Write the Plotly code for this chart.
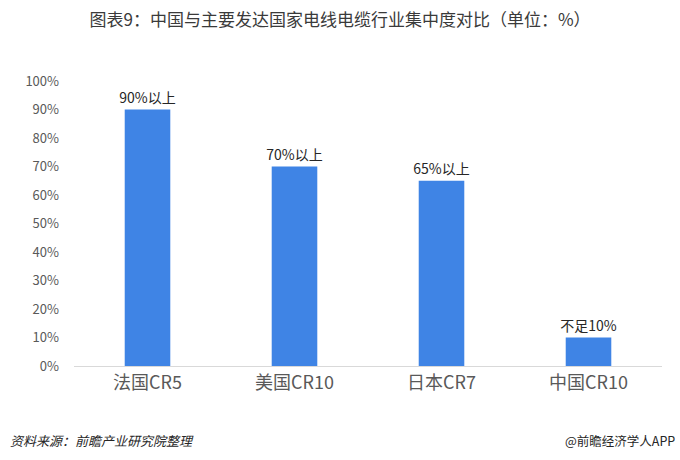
import plotly.graph_objects as go

categories = ["法国CR5", "美国CR10", "日本CR7", "中国CR10"]
values = [90, 70, 65, 10]
bar_labels = ["90%以上", "70%以上", "65%以上", "不足10%"]
y_ticks = [0, 10, 20, 30, 40, 50, 60, 70, 80, 90, 100]
y_tick_text = [f"{v}%" for v in y_ticks]

font_family = "Noto Sans CJK SC, sans-serif"

fig = go.Figure()
fig.add_trace(go.Bar(
    x=categories, y=values,
    marker=dict(color="#3F84E5", line=dict(width=0)),
    width=0.31,
    text=bar_labels, textposition="outside",
    constraintext="none",
    textfont=dict(size=14, color="#262626", family=font_family),
    cliponaxis=False,
))

fig.update_layout(
    width=680, height=460,
    margin=dict(l=74, r=18, t=81, b=94, autoexpand=False),
    paper_bgcolor="white", plot_bgcolor="white",
    showlegend=False,
    font=dict(family=font_family),
    title=dict(
        text="图表9：中国与主要发达国家电线电缆行业集中度对比（单位：%）",
        x=0.5, xanchor="center", y=0.957, yanchor="middle",
        font=dict(size=17, color="#3a3a3a", family=font_family),
    ),
    xaxis=dict(
        showline=True, linecolor="#D9D9D9", linewidth=1,
        ticks="", tickfont=dict(size=18, color="#595959", family=font_family),
        showgrid=False, automargin=False,
    ),
    yaxis=dict(
        range=[0, 100], tickvals=y_ticks, ticktext=y_tick_text,
        showgrid=False, zeroline=False, showline=False,
        tickfont=dict(size=13, color="#595959", family=font_family),
        ticklabelstandoff=14, automargin=False,
    ),
    bargap=0.69,
)

fig.add_annotation(
    text="<i>资料来源：前瞻产业研究院整理</i>", xref="paper", yref="paper",
    x=-66/588, y=-(440 - 366) / 285, xanchor="left", yanchor="middle",
    showarrow=False, font=dict(size=13, color="#262626", family=font_family),
)
fig.add_annotation(
    text="@前瞻经济学人APP", xref="paper", yref="paper",
    x=(677 - 74) / 588, y=-(440 - 366) / 285, xanchor="right", yanchor="middle",
    showarrow=False, font=dict(size=12.5, color="#262626", family=font_family),
)

fig.write_html("out.html", config={"displayModeBar": False},
               post_script="document.body.style.margin='0';")
